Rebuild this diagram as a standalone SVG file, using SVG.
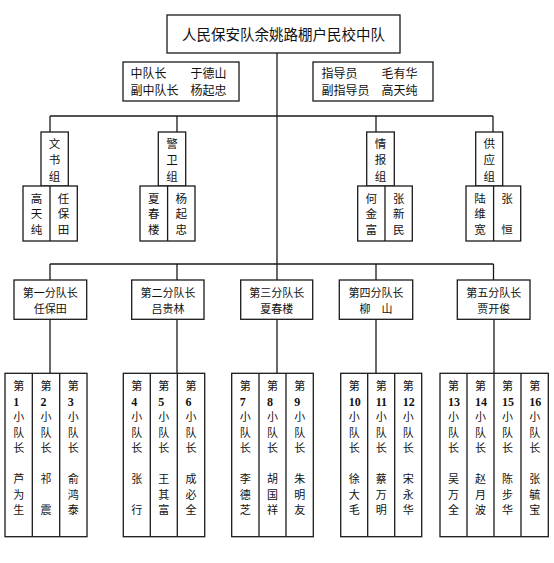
<svg xmlns="http://www.w3.org/2000/svg" width="554" height="563" viewBox="0 0 554 563">
<style>
rect{fill:#fff;stroke:#1a1a1a;stroke-width:1.3}
line{stroke:#1a1a1a;stroke-width:1.3}
text{font-family:"Noto Sans CJK SC","Noto Sans",sans-serif;fill:#111}
.t{font-size:14.5px;text-anchor:middle}
.l{font-size:12px}
.m{font-size:11px;text-anchor:middle}
.g{font-size:11.5px;text-anchor:middle}
.c{font-size:11px;text-anchor:middle}
.n{font-family:"Liberation Serif",serif;font-weight:bold;font-size:12px}
</style>
<rect width="554" height="563" style="fill:#fff;stroke:none"/>
<g id="connectors">
<line x1="277" y1="53" x2="277" y2="373.3"/>
<line x1="50" y1="116" x2="493" y2="116"/>
<line x1="50" y1="116" x2="50" y2="132"/>
<line x1="177" y1="116" x2="177" y2="132"/>
<line x1="376" y1="116" x2="376" y2="132"/>
<line x1="493" y1="116" x2="493" y2="132"/>
<line x1="50" y1="264" x2="493.5" y2="264"/>
<line x1="50" y1="264" x2="50" y2="280"/>
<line x1="177" y1="264" x2="177" y2="280"/>
<line x1="376" y1="264" x2="376" y2="280"/>
<line x1="493.5" y1="264" x2="493.5" y2="280"/>
<line x1="50" y1="319.3" x2="50" y2="373.3"/>
<line x1="177" y1="319.3" x2="177" y2="373.3"/>
<line x1="376" y1="319.3" x2="376" y2="373.3"/>
<line x1="494" y1="319.3" x2="494" y2="373.3"/>
</g>
<g id="title">
<rect x="167" y="15" width="233" height="38"/>
<text class="t" x="283.5" y="39.5">人民保安队余姚路棚户民校中队</text>
</g>
<g id="leader-left">
<rect x="123" y="62" width="116" height="39"/>
<text class="l" x="130.5" y="78">中队长</text>
<text class="l" x="190.5" y="78">于德山</text>
<text class="l" x="130.5" y="94.5">副中队长</text>
<text class="l" x="190.5" y="94.5">杨起忠</text>
</g>
<g id="leader-right">
<rect x="313" y="62" width="120" height="39"/>
<text class="l" x="321.5" y="78">指导员</text>
<text class="l" x="381.5" y="78">毛有华</text>
<text class="l" x="321.5" y="94.5">副指导员</text>
<text class="l" x="381.5" y="94.5">高天纯</text>
</g>
<g id="group-wenshu">
<rect x="41" y="132" width="27.3" height="54"/>
<text class="g"><tspan x="54.6" y="147.5">文</tspan><tspan x="54.6" y="164">书</tspan><tspan x="54.6" y="180.5">组</tspan></text>
<rect x="23" y="186" width="54.3" height="55"/>
<line x1="50" y1="186" x2="50" y2="241"/>
<text class="g"><tspan x="36.5" y="202.5">高</tspan><tspan x="36.5" y="218">天</tspan><tspan x="36.5" y="233.5">纯</tspan></text>
<text class="g"><tspan x="63.6" y="202.5">任</tspan><tspan x="63.6" y="218">保</tspan><tspan x="63.6" y="233.5">田</tspan></text>
</g>
<g id="group-jingwei">
<rect x="158.3" y="132" width="27.4" height="54"/>
<text class="g"><tspan x="172" y="147.5">警</tspan><tspan x="172" y="164">卫</tspan><tspan x="172" y="180.5">组</tspan></text>
<rect x="140" y="186" width="55" height="55"/>
<line x1="167.6" y1="186" x2="167.6" y2="241"/>
<text class="g"><tspan x="153.8" y="202.5">夏</tspan><tspan x="153.8" y="218">春</tspan><tspan x="153.8" y="233.5">楼</tspan></text>
<text class="g"><tspan x="181.3" y="202.5">杨</tspan><tspan x="181.3" y="218">起</tspan><tspan x="181.3" y="233.5">忠</tspan></text>
</g>
<g id="group-qingbao">
<rect x="366.7" y="132" width="27.6" height="54"/>
<text class="g"><tspan x="380.5" y="147.5">情</tspan><tspan x="380.5" y="164">报</tspan><tspan x="380.5" y="180.5">组</tspan></text>
<rect x="357.7" y="186" width="54.6" height="55"/>
<line x1="385" y1="186" x2="385" y2="241"/>
<text class="g"><tspan x="371.3" y="202.5">何</tspan><tspan x="371.3" y="218">金</tspan><tspan x="371.3" y="233.5">富</tspan></text>
<text class="g"><tspan x="398.7" y="202.5">张</tspan><tspan x="398.7" y="218">新</tspan><tspan x="398.7" y="233.5">民</tspan></text>
</g>
<g id="group-gongying">
<rect x="475.7" y="132" width="27" height="54"/>
<text class="g"><tspan x="489.2" y="147.5">供</tspan><tspan x="489.2" y="164">应</tspan><tspan x="489.2" y="180.5">组</tspan></text>
<rect x="466" y="186" width="54.7" height="55"/>
<line x1="493.6" y1="186" x2="493.6" y2="241"/>
<text class="g"><tspan x="480" y="202.5">陆</tspan><tspan x="480" y="218">维</tspan><tspan x="480" y="233.5">宽</tspan></text>
<text class="g"><tspan x="507" y="202.5">张</tspan><tspan x="507" y="233.5">恒</tspan></text>
</g>
<g id="sub1">
<rect x="14" y="280" width="72.7" height="39.3"/>
<text class="m" x="50.3" y="296.7">第一分队长</text>
<text class="m" x="50.3" y="313.3">任保田</text>
</g>
<g id="sub2">
<rect x="131.7" y="280" width="72.3" height="39.3"/>
<text class="m" x="167.9" y="296.7">第二分队长</text>
<text class="m" x="167.9" y="313.3">吕贵林</text>
</g>
<g id="sub3">
<rect x="240.7" y="280" width="72" height="39.3"/>
<text class="m" x="276.7" y="296.7">第三分队长</text>
<text class="m" x="276.7" y="313.3">夏春楼</text>
</g>
<g id="sub4">
<rect x="339.3" y="280" width="73.4" height="39.3"/>
<text class="m" x="376" y="296.7">第四分队长</text>
<text class="m" x="376" y="313.3">柳　山</text>
</g>
<g id="sub5">
<rect x="457.3" y="280" width="72.7" height="39.3"/>
<text class="m" x="493.7" y="296.7">第五分队长</text>
<text class="m" x="493.7" y="313.3">贾开俊</text>
</g>
<g id="team-1-3">
<rect x="5" y="373.3" width="82" height="163.4"/>
<line x1="32.3" y1="373.3" x2="32.3" y2="536.7"/>
<line x1="59.7" y1="373.3" x2="59.7" y2="536.7"/>
<text class="c"><tspan x="18.7" y="389.5">第</tspan><tspan x="18.7" y="421">小</tspan><tspan x="18.7" y="436.5">队</tspan><tspan x="18.7" y="451.5">长</tspan><tspan x="18.7" y="482.5">芦</tspan><tspan x="18.7" y="498.5">为</tspan><tspan x="18.7" y="514">生</tspan></text>
<text class="n" x="13.2" y="405.8">1</text>
<text class="c"><tspan x="46" y="389.5">第</tspan><tspan x="46" y="421">小</tspan><tspan x="46" y="436.5">队</tspan><tspan x="46" y="451.5">长</tspan><tspan x="46" y="482.5">祁</tspan><tspan x="46" y="514">震</tspan></text>
<text class="n" x="40.5" y="405.8">2</text>
<text class="c"><tspan x="73.3" y="389.5">第</tspan><tspan x="73.3" y="421">小</tspan><tspan x="73.3" y="436.5">队</tspan><tspan x="73.3" y="451.5">长</tspan><tspan x="73.3" y="482.5">俞</tspan><tspan x="73.3" y="498.5">鸿</tspan><tspan x="73.3" y="514">泰</tspan></text>
<text class="n" x="67.8" y="405.8">3</text>
</g>
<g id="team-4-6">
<rect x="123.3" y="373.3" width="81.4" height="163.4"/>
<line x1="150.3" y1="373.3" x2="150.3" y2="536.7"/>
<line x1="177.3" y1="373.3" x2="177.3" y2="536.7"/>
<text class="c"><tspan x="136.8" y="389.5">第</tspan><tspan x="136.8" y="421">小</tspan><tspan x="136.8" y="436.5">队</tspan><tspan x="136.8" y="451.5">长</tspan><tspan x="136.8" y="482.5">张</tspan><tspan x="136.8" y="514">行</tspan></text>
<text class="n" x="131.3" y="405.8">4</text>
<text class="c"><tspan x="163.8" y="389.5">第</tspan><tspan x="163.8" y="421">小</tspan><tspan x="163.8" y="436.5">队</tspan><tspan x="163.8" y="451.5">长</tspan><tspan x="163.8" y="482.5">王</tspan><tspan x="163.8" y="498.5">其</tspan><tspan x="163.8" y="514">富</tspan></text>
<text class="n" x="158.3" y="405.8">5</text>
<text class="c"><tspan x="191" y="389.5">第</tspan><tspan x="191" y="421">小</tspan><tspan x="191" y="436.5">队</tspan><tspan x="191" y="451.5">长</tspan><tspan x="191" y="482.5">成</tspan><tspan x="191" y="498.5">必</tspan><tspan x="191" y="514">全</tspan></text>
<text class="n" x="185.5" y="405.8">6</text>
</g>
<g id="team-7-9">
<rect x="231.7" y="373.3" width="81.6" height="163.4"/>
<line x1="259" y1="373.3" x2="259" y2="536.7"/>
<line x1="286" y1="373.3" x2="286" y2="536.7"/>
<text class="c"><tspan x="245.3" y="389.5">第</tspan><tspan x="245.3" y="421">小</tspan><tspan x="245.3" y="436.5">队</tspan><tspan x="245.3" y="451.5">长</tspan><tspan x="245.3" y="482.5">李</tspan><tspan x="245.3" y="498.5">德</tspan><tspan x="245.3" y="514">芝</tspan></text>
<text class="n" x="239.8" y="405.8">7</text>
<text class="c"><tspan x="272.5" y="389.5">第</tspan><tspan x="272.5" y="421">小</tspan><tspan x="272.5" y="436.5">队</tspan><tspan x="272.5" y="451.5">长</tspan><tspan x="272.5" y="482.5">胡</tspan><tspan x="272.5" y="498.5">国</tspan><tspan x="272.5" y="514">祥</tspan></text>
<text class="n" x="267" y="405.8">8</text>
<text class="c"><tspan x="299.7" y="389.5">第</tspan><tspan x="299.7" y="421">小</tspan><tspan x="299.7" y="436.5">队</tspan><tspan x="299.7" y="451.5">长</tspan><tspan x="299.7" y="482.5">朱</tspan><tspan x="299.7" y="498.5">明</tspan><tspan x="299.7" y="514">友</tspan></text>
<text class="n" x="294.2" y="405.8">9</text>
</g>
<g id="team-10-12">
<rect x="340.7" y="373.3" width="81" height="163.4"/>
<line x1="367.7" y1="373.3" x2="367.7" y2="536.7"/>
<line x1="394.7" y1="373.3" x2="394.7" y2="536.7"/>
<text class="c"><tspan x="354.2" y="389.5">第</tspan><tspan x="354.2" y="421">小</tspan><tspan x="354.2" y="436.5">队</tspan><tspan x="354.2" y="451.5">长</tspan><tspan x="354.2" y="482.5">徐</tspan><tspan x="354.2" y="498.5">大</tspan><tspan x="354.2" y="514">毛</tspan></text>
<text class="n" x="348.7" y="405.8">10</text>
<text class="c"><tspan x="381.2" y="389.5">第</tspan><tspan x="381.2" y="421">小</tspan><tspan x="381.2" y="436.5">队</tspan><tspan x="381.2" y="451.5">长</tspan><tspan x="381.2" y="482.5">蔡</tspan><tspan x="381.2" y="498.5">万</tspan><tspan x="381.2" y="514">明</tspan></text>
<text class="n" x="375.7" y="405.8">11</text>
<text class="c"><tspan x="408.2" y="389.5">第</tspan><tspan x="408.2" y="421">小</tspan><tspan x="408.2" y="436.5">队</tspan><tspan x="408.2" y="451.5">长</tspan><tspan x="408.2" y="482.5">宋</tspan><tspan x="408.2" y="498.5">永</tspan><tspan x="408.2" y="514">华</tspan></text>
<text class="n" x="402.7" y="405.8">12</text>
</g>
<g id="team-13-16">
<rect x="440" y="373.3" width="108.3" height="163.4"/>
<line x1="467" y1="373.3" x2="467" y2="536.7"/>
<line x1="494" y1="373.3" x2="494" y2="536.7"/>
<line x1="521" y1="373.3" x2="521" y2="536.7"/>
<text class="c"><tspan x="453.5" y="389.5">第</tspan><tspan x="453.5" y="421">小</tspan><tspan x="453.5" y="436.5">队</tspan><tspan x="453.5" y="451.5">长</tspan><tspan x="453.5" y="482.5">吴</tspan><tspan x="453.5" y="498.5">万</tspan><tspan x="453.5" y="514">全</tspan></text>
<text class="n" x="448" y="405.8">13</text>
<text class="c"><tspan x="480.5" y="389.5">第</tspan><tspan x="480.5" y="421">小</tspan><tspan x="480.5" y="436.5">队</tspan><tspan x="480.5" y="451.5">长</tspan><tspan x="480.5" y="482.5">赵</tspan><tspan x="480.5" y="498.5">月</tspan><tspan x="480.5" y="514">波</tspan></text>
<text class="n" x="475" y="405.8">14</text>
<text class="c"><tspan x="507.5" y="389.5">第</tspan><tspan x="507.5" y="421">小</tspan><tspan x="507.5" y="436.5">队</tspan><tspan x="507.5" y="451.5">长</tspan><tspan x="507.5" y="482.5">陈</tspan><tspan x="507.5" y="498.5">步</tspan><tspan x="507.5" y="514">华</tspan></text>
<text class="n" x="502" y="405.8">15</text>
<text class="c"><tspan x="534.7" y="389.5">第</tspan><tspan x="534.7" y="421">小</tspan><tspan x="534.7" y="436.5">队</tspan><tspan x="534.7" y="451.5">长</tspan><tspan x="534.7" y="482.5">张</tspan><tspan x="534.7" y="498.5">毓</tspan><tspan x="534.7" y="514">宝</tspan></text>
<text class="n" x="529.2" y="405.8">16</text>
</g>
</svg>
